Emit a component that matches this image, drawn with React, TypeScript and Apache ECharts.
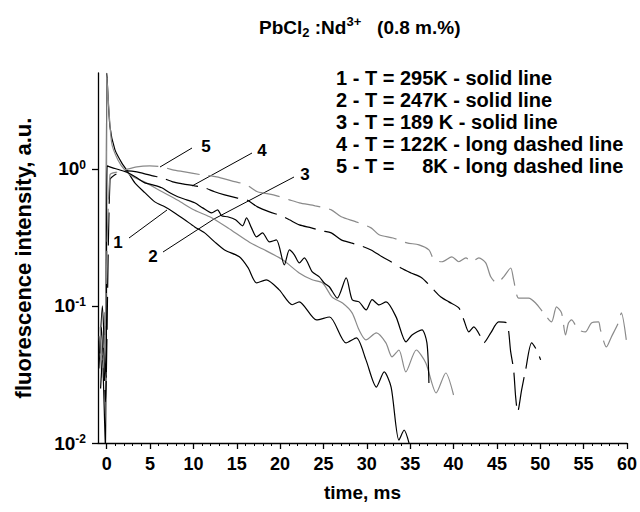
import React, { useEffect, useRef } from 'react';
import * as echarts from 'echarts';

// ---- data (time in ms, fluorescence intensity in a.u.) ----
const c1Time = [-0.9, -0.6, -0.35, -0.12, 0.02, 0.38, 0.95, 1.72, 2.45, 3.25, 4.4, 5.55, 6.7, 7.85, 9.0, 10.15, 11.3, 12.45, 13.6, 15.3, 16.3, 17.3, 18.4, 19.9, 21.4, 22.2, 24.2, 25.7, 27.6, 28.8, 29.9, 31.1, 32.0, 32.8, 33.7, 34.3, 34.9];
const c1Value = [0.035, 0.07, 0.025, 0.008, 5.0, 2.03, 1.38, 1.11, 0.95, 0.79, 0.67, 0.574, 0.528, 0.477, 0.425, 0.377, 0.341, 0.293, 0.256, 0.228, 0.19, 0.147, 0.155, 0.131, 0.102, 0.107, 0.079, 0.083, 0.0537, 0.0584, 0.0404, 0.0256, 0.033, 0.0256, 0.0105, 0.0124, 0.0098];

const c2Time = [-0.85, -0.55, -0.25, -0.08, 0.03, 0.57, 1.3, 2.1, 3.25, 4.4, 6.4, 8.2, 10.1, 12.1, 14.0, 16.5, 18.0, 20.3, 22.2, 23.7, 24.9, 26.0, 27.2, 28.3, 29.1, 29.9, 31.1, 32.2, 32.9, 33.7, 34.5, 35.7, 36.8, 38.0, 39.1, 40.0];
const c2Value = [0.06, 0.03, 0.09, 0.02, 4.6, 1.55, 1.16, 0.98, 0.86, 0.8, 0.68, 0.59, 0.5, 0.44, 0.37, 0.29, 0.26, 0.217, 0.174, 0.155, 0.147, 0.116, 0.105, 0.089, 0.0669, 0.0565, 0.0635, 0.0537, 0.0425, 0.0477, 0.033, 0.0477, 0.0384, 0.0232, 0.0324, 0.0224];

const c3Time = [-0.8, -0.5, -0.2, -0.05, 0.05, 0.61, 1.53, 2.45, 3.48, 4.4, 5.32, 6.36, 7.28, 8.2, 9.23, 10.15, 11.07, 12.1, 12.79, 13.25, 13.94, 14.86, 15.67, 16.13, 16.7, 17.28, 17.97, 18.77, 19.57, 20.49, 21.07, 21.64, 22.22, 22.79, 23.71, 24.52, 25.09, 25.67, 26.59, 27.62, 28.31, 29.11, 29.92, 30.61, 31.41, 32.22, 33.37, 34.52, 35.21, 36.36, 36.93, 37.16];
const c3Value = [0.045, 0.1, 0.04, 0.03, 1.05, 1.02, 0.98, 0.935, 0.86, 0.79, 0.764, 0.727, 0.668, 0.625, 0.594, 0.565, 0.519, 0.477, 0.502, 0.454, 0.447, 0.425, 0.384, 0.439, 0.371, 0.319, 0.341, 0.293, 0.303, 0.199, 0.256, 0.236, 0.206, 0.224, 0.177, 0.163, 0.147, 0.138, 0.114, 0.16, 0.111, 0.107, 0.0935, 0.111, 0.1017, 0.107, 0.0832, 0.0546, 0.0614, 0.0668, 0.0537, 0.0274];

const c4Time = [-0.7, -0.4, -0.15, 0.38, 0.95, 1.76, 2.45, 3.48, 4.4, 5.32, 6.36, 7.62, 8.77, 10.15, 11.3, 12.45, 13.6, 14.98, 16.13, 17.39, 18.77, 20.15, 21.07, 22.22, 23.6, 24.75, 25.9, 27.05, 28.2, 29.34, 30.49, 31.76, 32.79, 33.94, 35.09, 36.36, 37.51, 38.54, 39.46, 40.61, 41.19, 41.76, 42.33, 43.14, 43.48, 44.29, 45.2, 46.13, 46.59, 46.93, 47.16, 47.39, 47.85, 48.31, 49.0, 49.58, 50.04];
const c4Value = [0.025, 0.05, 0.02, 0.831, 0.904, 0.951, 0.967, 0.951, 0.919, 0.889, 0.86, 0.804, 0.777, 0.751, 0.727, 0.68, 0.646, 0.614, 0.594, 0.528, 0.485, 0.454, 0.425, 0.39, 0.371, 0.353, 0.341, 0.303, 0.288, 0.274, 0.256, 0.228, 0.21, 0.189, 0.174, 0.16, 0.135, 0.116, 0.107, 0.0967, 0.079, 0.0646, 0.0703, 0.0594, 0.0537, 0.0635, 0.0764, 0.0751, 0.0462, 0.0341, 0.0217, 0.0168, 0.0244, 0.0341, 0.0537, 0.0477, 0.0404];

const c5Time = [-0.75, -0.45, -0.2, 0.38, 1.3, 2.1, 3.48, 4.98, 6.36, 7.62, 9.0, 10.95, 12.68, 14.4, 16.13, 17.39, 19.23, 21.07, 22.22, 24.06, 25.9, 27.05, 28.77, 30.49, 31.41, 33.02, 34.63, 36.01, 37.16, 37.74, 38.66, 39.81, 40.61, 41.42, 42.11, 42.92, 43.71, 44.29, 44.97, 45.78, 46.59, 46.93, 47.51, 48.66, 49.46, 50.38, 51.3, 51.87, 52.45, 52.91, 53.25, 53.6, 54.4, 55.2, 55.9, 56.71, 56.94, 57.63, 58.2, 59.0, 59.35, 59.92];
const c5Value = [0.07, 0.035, 0.06, 0.904, 0.951, 0.983, 1.034, 1.05, 1.034, 0.983, 0.951, 0.904, 0.874, 0.817, 0.764, 0.68, 0.646, 0.594, 0.565, 0.537, 0.502, 0.447, 0.41, 0.371, 0.33, 0.313, 0.288, 0.279, 0.256, 0.217, 0.21, 0.228, 0.21, 0.224, 0.21, 0.224, 0.206, 0.163, 0.147, 0.163, 0.189, 0.155, 0.114, 0.114, 0.105, 0.089, 0.0764, 0.0984, 0.089, 0.0614, 0.0751, 0.079, 0.0669, 0.0646, 0.0751, 0.0764, 0.0669, 0.0502, 0.0594, 0.0751, 0.089, 0.0565];

const curveLabels = ['1', '2', '3', '4', '5'];
const xMajorTicks = [0, 5, 10, 15, 20, 25, 30, 35, 40, 45, 50, 55, 60];
const xMinorTicks = Array.from({ length: 61 }, (_, i) => i).filter((v) => v % 5 !== 0);
const yTicks = [0.01, 0.1, 1];
const legendLines = [
  '1 - T = 295K - solid line',
  '2 - T = 247K - solid line',
  '3 - T = 189 K - solid line',
  '4 - T = 122K - long dashed line',
  '5 - T =     8K - long dashed line',
];

const FONT = '"Liberation Sans", Arial, Helvetica, sans-serif';

const pairs = (t: number[], v: number[]) => t.map((x, i) => [x, v[i]]);

export default function App() {
  const ref = useRef<HTMLDivElement>(null);
  useEffect(() => {
    if (!ref.current) return;
    const chart = echarts.init(ref.current, null, { renderer: 'svg' });

    const lineSeries = (name: string, data: number[][], color: string, dashed: boolean) => ({
      name,
      type: 'line',
      xAxisIndex: 0,
      yAxisIndex: 0,
      data,
      showSymbol: false,
      symbol: 'none',
      smooth: 0.25,
      clip: true,
      lineStyle: { color, width: 1.2, type: dashed ? [33, 9] : 'solid' },
      z: dashed ? 3 : 2,
    });

    const txt = (text: string, x: number, y: number, size = 17) => ({
      type: 'text',
      x,
      y,
      style: {
        text,
        fontSize: size,
        fontWeight: 'bold',
        fontFamily: FONT,
        fill: '#000',
        textAlign: 'center',
        textVerticalAlign: 'middle',
      },
    });
    const leader = (x1: number, y1: number, x2: number, y2: number) => ({
      type: 'line',
      shape: { x1, y1, x2, y2 },
      style: { stroke: '#000', lineWidth: 1 },
    });

    const option: any = {
      animation: false,
      backgroundColor: '#fff',
      textStyle: { fontFamily: FONT },
      title: {
        text: '{a|PbCl}{sub|2}{a| :Nd}{sup|3+}{a|   (0.8 m.%)}',
        left: 254,
        top: 10,
        textStyle: {
          rich: {
            a: { fontSize: 19, fontWeight: 'bold', fontFamily: FONT, color: '#000', lineHeight: 24 },
            sub: { fontSize: 13, fontWeight: 'bold', fontFamily: FONT, color: '#000', lineHeight: 13, verticalAlign: 'bottom' },
            sup: { fontSize: 13, fontWeight: 'bold', fontFamily: FONT, color: '#000', lineHeight: 13, verticalAlign: 'top' },
          },
        },
      },
      grid: { left: 98, right: 11, top: 73, bottom: 69, containLabel: false },
      xAxis: [
        {
          type: 'value',
          min: -1,
          max: 60,
          position: 'bottom',
          axisLine: { show: true, onZero: false, lineStyle: { color: '#000', width: 1.3 } },
          axisTick: { show: true, length: 6, customValues: xMajorTicks, lineStyle: { color: '#000', width: 1.3 } },
          axisLabel: {
            customValues: xMajorTicks,
            margin: 12,
            fontSize: 18,
            fontWeight: 'bold',
            fontFamily: FONT,
            color: '#000',
          },
          splitLine: { show: false },
          name: 'time, ms',
          nameLocation: 'middle',
          nameGap: 40,
          nameTextStyle: { fontSize: 19, fontWeight: 'bold', fontFamily: FONT, color: '#000' },
        },
        {
          type: 'value',
          min: -1,
          max: 60,
          position: 'bottom',
          axisLine: { show: false, onZero: false },
          axisTick: { show: true, length: 3, customValues: xMinorTicks, lineStyle: { color: '#000', width: 1 } },
          axisLabel: { show: false },
          splitLine: { show: false },
        },
      ],
      yAxis: {
        type: 'log',
        logBase: 10,
        min: 0.01,
        max: 5,
        axisLine: { show: true, onZero: false, lineStyle: { color: '#000', width: 1.3 } },
        axisTick: { show: true, length: 6, customValues: yTicks, lineStyle: { color: '#000', width: 1.3 } },
        minorTick: { show: false },
        axisLabel: {
          customValues: yTicks,
          margin: 12,
          formatter: (v: number) => `{b|10}{s|${Math.round(Math.log10(v))}}`,
          rich: {
            b: { fontSize: 19, fontWeight: 'bold', fontFamily: FONT, color: '#000', lineHeight: 20 },
            s: { fontSize: 12, fontWeight: 'bold', fontFamily: FONT, color: '#000', lineHeight: 12, verticalAlign: 'top' },
          },
        },
        splitLine: { show: false },
        name: 'fluorescence intensity, a.u.',
        nameLocation: 'middle',
        nameGap: 64,
        nameRotate: 90,
        nameTextStyle: { fontSize: 22, fontWeight: 'bold', fontFamily: FONT, color: '#000' },
      },
      series: [
        lineSeries(curveLabels[0], pairs(c1Time, c1Value), '#000', false),
        lineSeries(curveLabels[1], pairs(c2Time, c2Value), '#8a8a8a', false),
        lineSeries(curveLabels[2], pairs(c3Time, c3Value), '#000', false),
        lineSeries(curveLabels[3], pairs(c4Time, c4Value), '#000', true),
        lineSeries(curveLabels[4], pairs(c5Time, c5Value), '#8a8a8a', true),
      ],
      graphic: [
        {
          type: 'text',
          x: 336,
          y: 67,
          style: {
            text: legendLines.join('\n'),
            fontSize: 20,
            fontWeight: 'bold',
            fontFamily: FONT,
            fill: '#000',
            lineHeight: 22,
            textAlign: 'left',
            textVerticalAlign: 'top',
          },
        },
        leader(192, 148, 160, 167),
        leader(252, 153, 192, 186),
        leader(294, 177, 214, 219),
        leader(163, 252, 214, 219),
        leader(129, 238, 167, 210),
        txt(curveLabels[4], 206, 146),
        txt(curveLabels[3], 262, 150),
        txt(curveLabels[2], 305, 174),
        txt(curveLabels[1], 153, 256),
        txt(curveLabels[0], 118, 242),
      ],
    };

    chart.setOption(option);
    return () => chart.dispose();
  }, []);

  return <div ref={ref} style={{ position: 'fixed', left: 0, top: 0, width: 640, height: 512 }} />;
}
